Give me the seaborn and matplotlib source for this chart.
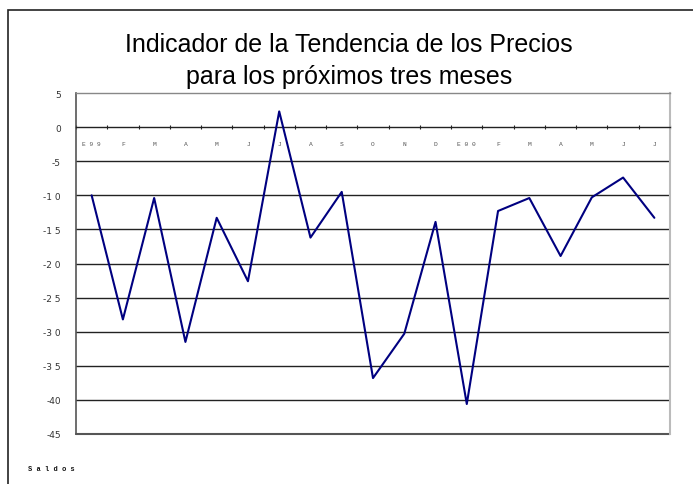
import numpy as np
import pandas as pd
import matplotlib
matplotlib.use("Agg")
import matplotlib.pyplot as plt
from matplotlib.patches import Rectangle
import seaborn as sns

# datos del indicador (saldos)
meses = ["E99", "F", "M", "A", "M", "J", "J", "A", "S", "O", "N", "D",
         "E00", "F", "M", "A", "M", "J", "J"]
saldos = [-10.0, -28.2, -10.4, -31.5, -13.3, -22.6, 2.3, -16.2, -9.5, -36.8,
          -30.3, -13.9, -40.6, -12.3, -10.4, -18.9, -10.3, -7.4, -13.3]
marcas_y = [5, 0, -5, -10, -15, -20, -25, -30, -35, -40, -45]
etiquetas_y = ["5", "0", "-5", "-1 0", "-1 5", "-2 0", "-2 5", "-3 0", "-3 5", "-40", "-45"]

df = pd.DataFrame({"pos": np.arange(len(meses)), "saldo": saldos})

sns.set_theme(style="white")
plt.rcParams["font.family"] = ["Liberation Sans", "DejaVu Sans"]

fig = plt.figure(figsize=(6.93, 4.85), dpi=100)
ax = fig.add_axes([76 / 693, 50 / 485, 594 / 693, 341 / 485])

# marco exterior del grafico
fig.patches.append(Rectangle((8 / 693, -0.1), 1.2, (485 - 11) / 485 + 0.1,
                             transform=fig.transFigure, fill=False,
                             edgecolor="#222222", linewidth=1.2))

# lineas horizontales cada 5 puntos
for v in marcas_y[2:-1]:
    ax.axhline(v, color="#222222", linewidth=1.0, zorder=1)

sns.lineplot(data=df, x="pos", y="saldo", color="#000080", linewidth=1.5, ax=ax, zorder=3)

ax.set_xlim(-0.5, len(meses) - 0.5)
ax.set_ylim(-45, 5)
ax.set_yticks(marcas_y)
ax.set_yticklabels(etiquetas_y, fontsize=6.5, color="#333333", family="DejaVu Sans")
ax.tick_params(axis="y", length=3, width=0.8, color="#333333", pad=8)

# eje de categorias en el cero
ax.spines["bottom"].set_position(("data", 0))
ax.spines["bottom"].set_color("#222222")
ax.spines["bottom"].set_linewidth(1.0)
ax.set_xticks(df["pos"])
ax.set_xticklabels([" ".join(m) for m in meses], fontsize=4.5, family="Liberation Mono", color="#555555")
ax.set_xticks(np.arange(-0.5, len(meses), 1.0), minor=True)
ax.tick_params(axis="x", which="major", length=0, pad=10)
ax.tick_params(axis="x", which="minor", length=3, width=0.8, direction="inout",
               color="#222222", bottom=True)

ax.spines["left"].set_color("#555555")
ax.spines["left"].set_linewidth(1.2)
ax.spines["top"].set_color("#888888")
ax.spines["top"].set_linewidth(1.0)
ax.spines["right"].set_color("#bbbbbb")
ax.spines["right"].set_linewidth(1.5)
ax.axhline(-45, color="#555555", linewidth=1.5, zorder=2, clip_on=False)

ax.set_xlabel("")
ax.set_ylabel("")

fig.text(349 / 693, 1 - 61 / 485, "Indicador de la Tendencia de los Precios\npara los próximos tres meses",
         ha="center", va="center", fontsize=18, color="#000000", linespacing=1.45)
fig.text(28 / 693, 1 - 470 / 485, "S a l d o s", fontsize=5, family="Liberation Mono",
         weight="bold", color="#111111", va="center")

fig.savefig("out.png", dpi=100)
